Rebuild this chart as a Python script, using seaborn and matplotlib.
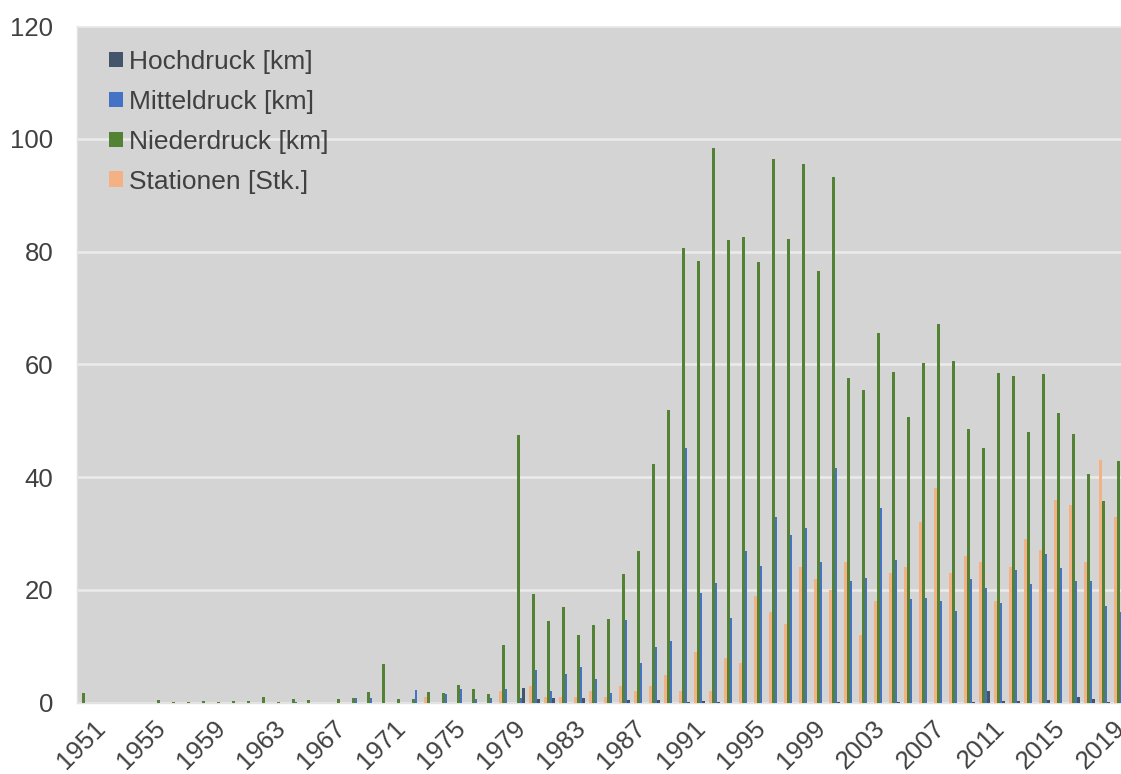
import matplotlib
matplotlib.use("Agg")
import matplotlib.pyplot as plt
import matplotlib.transforms as mtransforms
from matplotlib.patches import Patch
import numpy as np
import pandas as pd
import seaborn as sns

# Jahre der Auswertung
years = list(range(1951, 2021))

# Neu verlegte Leitungen je Druckstufe [km] und neue Stationen [Stk.]
hochdruck = [
    0, 0, 0, 0, 0, 0, 0, 0, 0, 0,
    0, 0, 0, 0, 0, 0, 0, 0, 0, 0,
    0, 0, 0, 0, 0, 0, 0, 0, 0, 2.6,
    0.6, 0.8, 0, 0.9, 0, 0, 0.4, 0, 0.4, 0,
    0.2, 0.3, 0.1, 0, 0, 0, 0, 0, 0, 0,
    0.1, 0, 0, 0, 0.2, 0, 0, 0, 0, 0.2,
    2.1, 0.3, 0.3, 0, 0.4, 0, 1.0, 0.7, 0.1, 0,
]
mitteldruck = [
    0, 0, 0, 0, 0, 0, 0, 0, 0, 0,
    0, 0, 0, 0, 0.15, 0, 0, 0, 0.8, 0.9,
    0, 0, 2.3, 0, 1.6, 2.5, 0.7, 0.8, 2.4, 0.8,
    5.8, 2.1, 5.1, 6.3, 4.2, 1.7, 14.6, 7.1, 9.8, 10.9,
    45.1, 19.5, 21.3, 15.1, 26.9, 24.2, 33.0, 29.8, 31.0, 25.0,
    41.7, 21.6, 22.1, 34.6, 25.3, 18.4, 18.5, 18.0, 16.2, 21.9,
    20.3, 17.6, 23.5, 21.0, 26.3, 23.9, 21.5, 21.6, 17.1, 16.0,
]
niederdruck = [
    1.7, 0, 0, 0, 0, 0.4, 0.1, 0.1, 0.25, 0.1,
    0.3, 0.3, 1.0, 0.2, 0.6, 0.5, 0, 0.7, 0.8, 1.9,
    6.9, 0.7, 0.7, 1.9, 1.7, 3.1, 2.4, 1.6, 10.2, 47.4,
    19.3, 14.4, 16.9, 12.0, 13.8, 14.8, 22.9, 26.9, 42.3, 51.9,
    80.7, 78.4, 98.3, 82.0, 82.5, 78.2, 96.4, 82.2, 95.6, 76.5,
    93.3, 57.6, 55.5, 65.5, 58.7, 50.6, 60.3, 67.2, 60.6, 48.5,
    45.1, 58.4, 58.0, 48.0, 58.3, 51.3, 47.6, 40.6, 35.8, 42.8,
]
stationen = [
    0, 0, 0, 0, 0, 0, 0, 0, 0, 0,
    0, 0, 0, 0, 0, 0, 0, 0, 0, 0,
    0, 0, 0, 1, 0, 0, 0, 0, 2, 0,
    3, 1, 1, 1, 2, 1, 3, 2, 3, 5,
    2, 9, 2, 8, 7, 19, 16, 14, 24, 22,
    20, 25, 12, 18, 23, 24, 32, 38, 23, 26,
    25, 18, 24, 29, 27, 36, 35, 25, 43, 33,
]

series_names = ["Hochdruck [km]", "Mitteldruck [km]", "Niederdruck [km]", "Stationen [Stk.]"]
series_values = [hochdruck, mitteldruck, niederdruck, stationen]
series_colors = ["#44546a", "#4472c4", "#548235", "#f4b183"]
y_ticks = [0, 20, 40, 60, 80, 100, 120]

# Balkenreihenfolge innerhalb einer Jahresgruppe (links nach rechts)
bar_order = ["Stationen [Stk.]", "Niederdruck [km]", "Mitteldruck [km]", "Hochdruck [km]"]

df = pd.DataFrame(
    [
        {"Jahr": str(y), "Reihe": name, "Wert": v}
        for name, vals in zip(series_names, series_values)
        for y, v in zip(years, vals)
    ]
)
palette = dict(zip(series_names, series_colors))

sns.set_theme(style="white")
plt.rcParams["font.family"] = ["Liberation Sans", "DejaVu Sans"]
text_color = "#404040"

fig = plt.figure(figsize=(11.21, 7.74), dpi=100)
W, H = 1121, 774
ax = fig.add_axes([77 / W, 71.3 / H, (W - 77) / W, (702.7 - 26) / H])
ax.set_facecolor("#d4d4d4")

sns.barplot(
    data=df, x="Jahr", y="Wert", hue="Reihe", hue_order=bar_order,
    order=[str(y) for y in years], palette=palette, width=0.72, gap=0,
    saturation=1, linewidth=0, legend=False, ax=ax, zorder=3,
)

ax.set_ylim(0, 120)
ax.set_xlim(-0.5, 69.1)
ax.set_yticks(y_ticks)
ax.set_yticklabels([str(t) for t in y_ticks])
ax.yaxis.grid(True, color="#ebebeb", linewidth=1.8, zorder=0)
ax.set_axisbelow(True)
ax.set_xlabel("")
ax.set_ylabel("")

tick_idx = list(range(0, len(years), 4))
ax.set_xticks(tick_idx)
ax.set_xticklabels([str(years[i]) for i in tick_idx])

ax.tick_params(axis="y", length=0, pad=17, labelsize=18.5, labelcolor=text_color)
ax.tick_params(axis="x", length=0, pad=0, labelsize=18.5, labelcolor=text_color)

shift = mtransforms.ScaledTranslation(-3 / 100, -42 / 100, fig.dpi_scale_trans)
for lab in ax.get_xticklabels():
    lab.set_rotation(45)
    lab.set_rotation_mode("anchor")
    lab.set_ha("center")
    lab.set_va("center")
    lab.set_transform(lab.get_transform() + shift)

for side in ("top", "right"):
    ax.spines[side].set_visible(False)
for side in ("left", "bottom"):
    ax.spines[side].set_color("#e2e2e2")
    ax.spines[side].set_linewidth(1.0)

handles = [Patch(facecolor=c, edgecolor="none") for c in series_colors]
leg = ax.legend(
    handles, series_names, loc="upper left",
    bbox_to_anchor=(109 / W, 1 - 50 / H), bbox_transform=fig.transFigure,
    frameon=False, fontsize=19, handlelength=0.52, handleheight=0.52,
    handletextpad=0.25, labelspacing=0.6, borderpad=0, borderaxespad=0,
)
for t in leg.get_texts():
    t.set_color(text_color)

fig.savefig("out.png", dpi=100, facecolor="white")
